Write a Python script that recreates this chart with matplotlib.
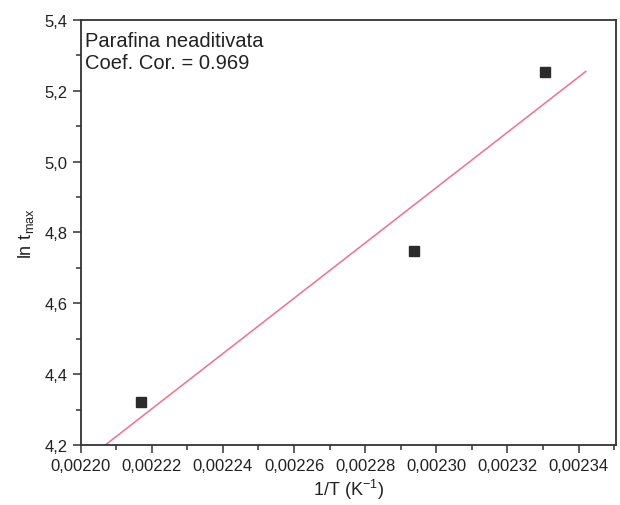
import numpy as np
import matplotlib
matplotlib.use('Agg')
import matplotlib.pyplot as plt
from matplotlib.ticker import MultipleLocator, FuncFormatter

plt.rcParams['font.family'] = ['Liberation Sans', 'DejaVu Sans']

# ── data ───────────────────────────────────────────────────────────────────────
inv_T = [0.0022169, 0.0022937, 0.0023305]
ln_tmax = [4.32, 4.747, 5.253]
FIT_RANGE = [0.00220, 0.002342]
LABEL = "Parafina neaditivata\nCoef. Cor. = 0.969"

slope, intercept = np.polyfit(inv_T, ln_tmax, 1)
xf = np.array(FIT_RANGE)
yf = slope * xf + intercept

# ── plot ───────────────────────────────────────────────────────────────────────
fig = plt.figure(figsize=(6.2, 5.06), dpi=100)
ax = fig.add_axes([0.130, 0.1186, 0.8635, 0.840])

ax.plot(xf, yf, color="#f2708c", lw=1.1, zorder=2)
ax.plot(inv_T, ln_tmax, 's', color="#2b2b2b", ms=6.5, zorder=3)

ax.set_xlim(0.00220, 0.0023505)
ax.set_ylim(4.2, 5.4)
ax.xaxis.set_major_locator(MultipleLocator(0.00002))
ax.xaxis.set_minor_locator(MultipleLocator(0.00001))
ax.yaxis.set_major_locator(MultipleLocator(0.2))
ax.yaxis.set_minor_locator(MultipleLocator(0.1))
ax.xaxis.set_major_formatter(FuncFormatter(lambda v, p: f"{v:.5f}".replace(".", ",")))
ax.yaxis.set_major_formatter(FuncFormatter(lambda v, p: f"{v:.1f}".replace(".", ",")))
ax.tick_params(which="both", direction="out", top=False, right=False,
               labelsize=12, color="#333333", labelcolor="#222222", width=1.1)
ax.tick_params(which="major", length=6)
ax.tick_params(which="minor", length=3.5)
for s in ax.spines.values():
    s.set_linewidth(1.3)
    s.set_color("#333333")

ax.set_xlabel("1/T (K$^{\\mathregular{-1}}$)", fontsize=13, color="#222222", labelpad=3)
ax.set_ylabel("$\\mathregular{ln\\ t_{max}}$", fontsize=13, color="#222222", labelpad=6)

ax.text(0.008, 0.975, LABEL, transform=ax.transAxes, ha="left", va="top",
        fontsize=14.5, color="#222222", linespacing=1.25)

fig.savefig("out.png", dpi=100)
